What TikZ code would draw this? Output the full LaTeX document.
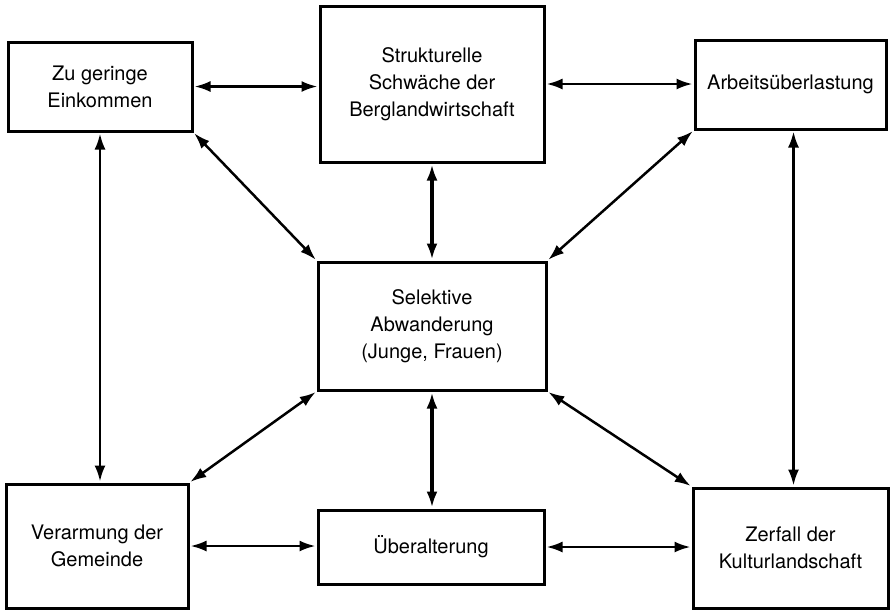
\documentclass[tikz,border=0pt]{standalone}
\usepackage{fontspec}
\setmainfont{TeX Gyre Heros}
\usetikzlibrary{arrows.meta,positioning}
\tikzset{
  blockbox/.style={ draw, line width=3pt, align=center, font=\fontsize{20}{27}\selectfont, inner sep=0pt },
  biarrow/.style={ {Latex[length=16pt,width=11pt]}-{Latex[length=16pt,width=11pt]}, line width=2.5pt, shorten <=1pt, shorten >=1pt },
  fatarrow/.style={ biarrow, line width=4pt }
}
\begin{document}
\begin{tikzpicture}[x=1pt,y=-1pt]
  \useasboundingbox (0,0) rectangle (896,614);
  \node[blockbox, minimum width=184pt, minimum height=89pt] (ein) at (100,86.5) {Zu geringe\\Einkommen};
  \node[blockbox, minimum width=224pt, minimum height=156pt] (struk) at (432,84) {Strukturelle\\Schwäche der\\Berglandwirtschaft};
  \node[blockbox, minimum width=191pt, minimum height=89pt] (arb) at (790.5,84.5) {Arbeitsüberlastung};
  \node[blockbox, minimum width=228pt, minimum height=128pt] (abw) at (432,326) {Selektive\\Abwanderung\\(Junge, Frauen)};
  \node[blockbox, minimum width=182pt, minimum height=124pt] (verarm) at (97,546) {Verarmung der\\Gemeinde};
  \node[blockbox, minimum width=226pt, minimum height=74pt] (ueber) at (431,547) {Überalterung};
  \node[blockbox, minimum width=195pt, minimum height=120pt] (zerf) at (790.5,548) {Zerfall der\\Kulturlandschaft};

  \draw[biarrow] (ein.east) -- (struk.west |- ein.east);
  \draw[biarrow] (struk.east) -- (arb.west |- struk.east);
  \draw[biarrow] (verarm.east) -- (ueber.west |- verarm.east);
  \draw[biarrow] (ueber.east) -- (zerf.west |- ueber.east);
  \draw[biarrow] (ein.south) -- (ein.south |- verarm.north);
  \draw[biarrow] ([xshift=3pt]arb.south) -- ([xshift=3pt]arb.south |- zerf.north);
  \draw[fatarrow] (struk.south) -- (abw.north);
  \draw[fatarrow] (abw.south) -- (abw.south |- ueber.north);
  \draw[biarrow] (ein.south east) -- (abw.north west);
  \draw[biarrow] (arb.south west) -- (abw.north east);
  \draw[biarrow] (abw.south west) -- (verarm.north east);
  \draw[biarrow] (abw.south east) -- (zerf.north west);
\end{tikzpicture}
\end{document}
